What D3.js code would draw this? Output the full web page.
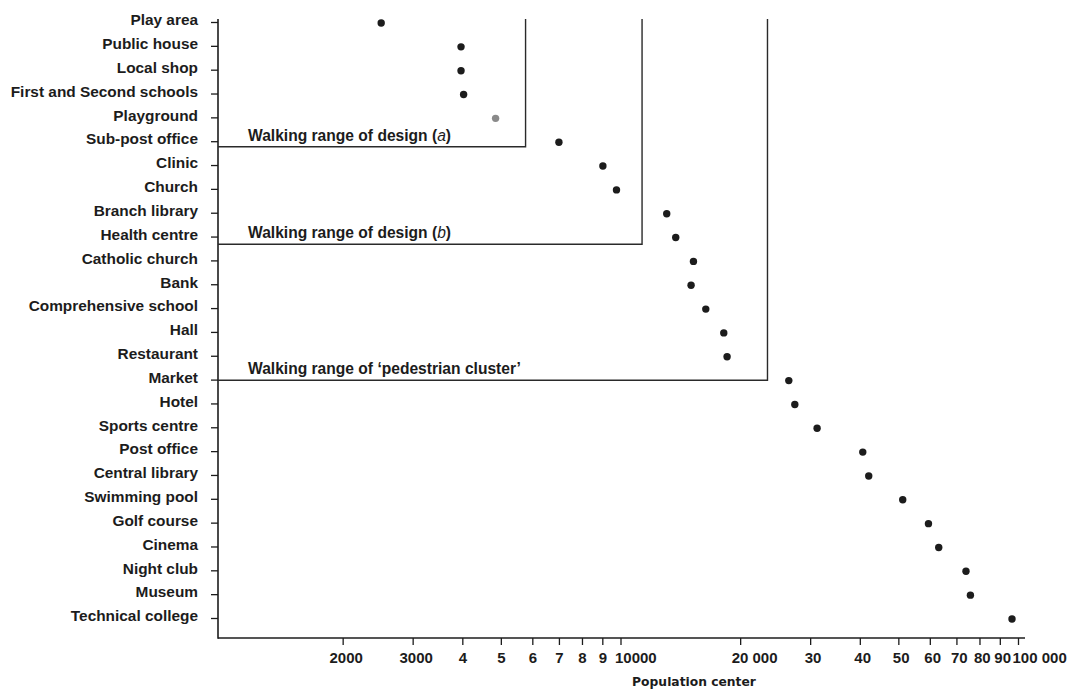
<!DOCTYPE html>
<html>
<head>
<meta charset="utf-8">
<script src="https://cdn.jsdelivr.net/npm/d3@7"></script>
<style>
  body { margin: 0; background: #fff; }
  text { font-family: "Liberation Sans", Arial, sans-serif; }
</style>
</head>
<body>
<div id="canvas"></div>
<script>
const categories = [
  "Play area", "Public house", "Local shop", "First and Second schools", "Playground",
  "Sub-post office", "Clinic", "Church", "Branch library", "Health centre",
  "Catholic church", "Bank", "Comprehensive school", "Hall", "Restaurant",
  "Market", "Hotel", "Sports centre", "Post office", "Central library",
  "Swimming pool", "Golf course", "Cinema", "Night club", "Museum", "Technical college"
];
const population = [
  2500, 3970, 3970, 4030, 4850,
  7000, 9030, 9770, 13070, 13770,
  15260, 15050, 16390, 18190, 18540,
  26510, 27450, 31230, 40690, 42120,
  51290, 59530, 63180, 73990, 75910, 96580
];
// grey dot in the print
const faded = ["Playground"];

const tickValues = [2000, 3000, 4000, 5000, 6000, 7000, 8000, 9000, 10000,
  20000, 30000, 40000, 50000, 60000, 70000, 80000, 90000, 100000];
const tickLabels = ["2000", "3000", "4", "5", "6", "7", "8", "9", "10000",
  "20 000", "30", "40", "50", "60", "70", "80", "90", "100 000"];

// walking ranges: population limit and position between categories (index units)
const rangePrefix = ["Walking range of design (", "Walking range of design (", "Walking range of \u2018pedestrian cluster\u2019"];
const rangeItalic = ["a", "b", ""];
const rangeSuffix = [")", ")", ""];
const rangePop = [5770, 11330, 23430];
const rangeRank = [5.23, 9.32, 15.03];

const width = 1074;
const height = 692;
const axisX = 218;
const axisY = 638;
const topY = 19;

const svg = d3.select("#canvas")
  .append("svg")
  .attr("width", width)
  .attr("height", height);

const x = d3.scaleLog()
  .domain([1000, 100000])
  .range([223, 1018]);

const y = d3.scalePoint()
  .domain(categories)
  .range([22, 618]);

const yIdx = d3.scaleLinear()
  .domain([0, categories.length - 1])
  .range([22, 618]);

const ink = "#1c1c1c";

// y axis
const gy = svg.append("g")
  .attr("transform", `translate(${axisX},0)`)
  .call(d3.axisLeft(y).tickSize(7).tickPadding(13));
gy.select(".domain").remove();
gy.selectAll("line").attr("stroke", ink).attr("stroke-width", 1.3);
gy.selectAll("text")
  .attr("fill", ink)
  .attr("dy", "0.18em")
  .style("font-size", "15.4px")
  .style("font-weight", "bold");

// x axis
const gx = svg.append("g")
  .attr("transform", `translate(0,${axisY})`)
  .call(d3.axisBottom(x).tickValues(tickValues).tickFormat((d, i) => tickLabels[i]).tickSize(7).tickPadding(7));
gx.select(".domain").remove();
gx.selectAll("line").attr("stroke", ink).attr("stroke-width", 1.3);
gx.selectAll("text")
  .attr("fill", ink)
  .style("font-size", "15px")
  .style("font-weight", "bold")
  .attr("text-anchor", d => d >= 10000 ? "start" : "middle")
  .attr("dx", d => d >= 10000 ? (d === 20000 ? -9 : -6) : (d < 4000 ? 3 : 0));

// axis frame
svg.append("line")
  .attr("x1", axisX).attr("x2", axisX)
  .attr("y1", topY).attr("y2", axisY + 0.75)
  .attr("stroke", ink).attr("stroke-width", 1.6);
svg.append("line")
  .attr("x1", axisX).attr("x2", x.range()[1] + 7)
  .attr("y1", axisY).attr("y2", axisY)
  .attr("stroke", ink).attr("stroke-width", 1.6);

svg.append("text")
  .attr("x", 694)
  .attr("y", 686)
  .attr("text-anchor", "middle")
  .style("font-family", "'DejaVu Sans', sans-serif")
  .style("font-size", "12.3px")
  .style("font-weight", "bold")
  .attr("fill", ink)
  .text("Population center");

// walking range brackets
const ranges = rangePop.map((p, i) => ({ pop: p, rank: rangeRank[i], i: i }));
const rg = svg.append("g");
rg.selectAll("path")
  .data(ranges)
  .enter()
  .append("path")
  .attr("fill", "none")
  .attr("stroke", "#2a2a2a")
  .attr("stroke-width", 1.4)
  .attr("d", d => `M${axisX},${yIdx(d.rank)}H${x(d.pop)}V${topY}`);

const labels = rg.selectAll("text")
  .data(ranges)
  .enter()
  .append("text")
  .attr("x", 248)
  .attr("y", d => yIdx(d.rank) - 6)
  .attr("fill", ink)
  .style("font-size", "15.6px")
  .style("font-weight", "bold");
labels.append("tspan").text(d => rangePrefix[d.i]);
labels.append("tspan").style("font-style", "italic").style("font-weight", "normal").text(d => rangeItalic[d.i]);
labels.append("tspan").text(d => rangeSuffix[d.i]);

// dots
svg.append("g")
  .selectAll("circle")
  .data(categories)
  .enter()
  .append("circle")
  .attr("cx", (d, i) => x(population[i]))
  .attr("cy", d => y(d) + 1)
  .attr("r", 3.7)
  .attr("fill", d => faded.includes(d) ? "#8a8a8a" : ink);
</script>
</body>
</html>
